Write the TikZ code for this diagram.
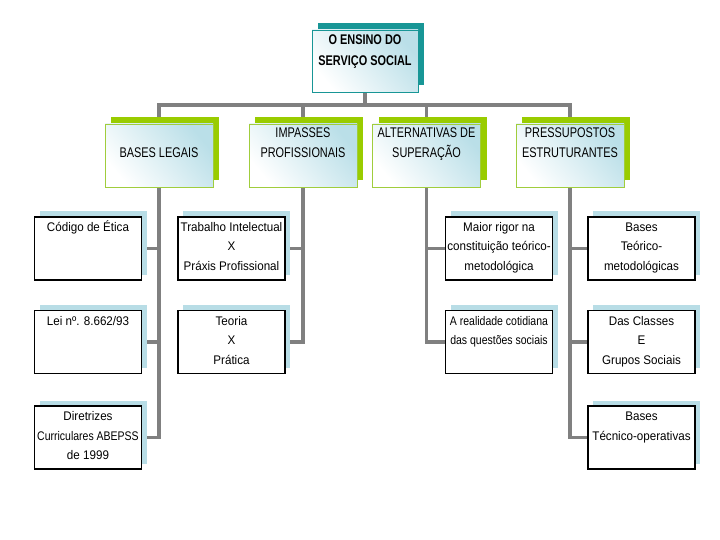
\documentclass[tikz,border=0pt]{standalone}
\usepackage{fontspec}
\setmainfont{Liberation Sans}
\newfontfamily\lvfont[FakeStretch=0.78]{Liberation Sans}
\newfontfamily\chfont[FakeStretch=0.93]{Liberation Sans}
\newfontfamily\chnfont[FakeStretch=0.84]{Liberation Sans}
\usetikzlibrary{shadows,backgrounds}
\definecolor{conngray}{RGB}{128,128,128}
\definecolor{tealone}{RGB}{24,150,150}
\definecolor{limeone}{RGB}{153,204,0}
\definecolor{limeborder}{RGB}{160,205,60}
\definecolor{paleblue}{RGB}{184,221,230}
\definecolor{gradblue}{RGB}{186,223,232}
% boxed text: width, height, first baseline, content
\newcommand\bxt[4]{\parbox[t][#2][t]{#1}{\centering\rule{0pt}{#3}\ignorespaces#4\par}}
\newcommand\toptxt[1]{\bxt{106pt}{62pt}{15pt}{\lvfont\bfseries\fontsize{14}{20.5}\selectfont #1}}
\newcommand\lvtxt[2][13.7pt]{\bxt{108pt}{63pt}{#1}{\lvfont\fontsize{14}{20}\selectfont #2}}
\newcommand\chtxt[1]{\bxt{107pt}{63pt}{14.5pt}{\chfont\fontsize{12.5}{19.5}\selectfont #1}}
\tikzset{
  conn/.style={draw=conngray, line width=3.2pt},
  topbox/.style={draw=tealone, line width=0.8pt, inner sep=0pt,
    minimum width=106pt, minimum height=62pt,
    general shadow={fill=tealone, shadow xshift=6pt, shadow yshift=7pt},
    top color=gradblue, bottom color=white, shading angle=-50},
  lvbox/.style={draw=limeborder, line width=0.8pt, inner sep=0pt,
    minimum width=108pt, minimum height=63pt,
    general shadow={fill=limeone, shadow xshift=6pt, shadow yshift=7pt},
    top color=gradblue, bottom color=white, shading angle=-50},
  chbox/.style={draw=black, line width=1.2pt, fill=white, inner sep=0pt,
    minimum width=107pt, minimum height=63pt,
    general shadow={fill=paleblue, shadow xshift=5pt, shadow yshift=5.5pt}}
}
\begin{document}
\begin{tikzpicture}[x=1pt, y=-1pt]
\useasboundingbox (0,0) rectangle (720,540);
% top
\node[topbox] (top) at (365,61) {\toptxt{O ENSINO DO\\SERVIÇO SOCIAL}};
% level 2
\node[lvbox] (bl) at (159,155.5) {\lvtxt[33.7pt]{BASES LEGAIS}};
\node[lvbox] (ip) at (303,155.5) {\lvtxt{IMPASSES\\PROFISSIONAIS}};
\node[lvbox] (al) at (426.5,155.5) {\lvtxt{ALTERNATIVAS DE\\SUPERAÇÃO}};
\node[lvbox] (pe) at (570,155.5) {\lvtxt{PRESSUPOSTOS\\ESTRUTURANTES}};
% children
\node[chbox] (c1) at (88,248.5) {\chtxt{Código de Ética}};
\node[chbox] (c2) at (88,342) {\chtxt{Lei nº. 8.662/93}};
\node[chbox] (c3) at (88,437.5) {\chtxt{Diretrizes\\{\chnfont Curriculares ABEPSS}\\de 1999}};
\node[chbox] (i1) at (231.5,248.5) {\chtxt{Trabalho Intelectual\\X\\Práxis Profissional}};
\node[chbox] (i2) at (231.5,342) {\chtxt{Teoria\\X\\Prática}};
\node[chbox] (a1) at (499,248.5) {\chtxt{Maior rigor na\\constituição teórico-\\metodológica}};
\node[chbox] (a2) at (499,342) {\chtxt{\chnfont A realidade cotidiana\\das questões sociais}};
\node[chbox] (p1) at (641.5,248.5) {\chtxt{Bases\\Teórico-\\metodológicas}};
\node[chbox] (p2) at (641.5,342) {\chtxt{Das Classes\\E\\Grupos Sociais}};
\node[chbox] (p3) at (641.5,437.5) {\chtxt{Bases\\Técnico-operativas}};
% connectors
\coordinate (bus) at (365,105);
\begin{scope}[on background layer]
\draw[conn] (top.south) -- (bus);
\draw[conn] (bl.north) |- (bus) -| (pe.north);
\draw[conn] (ip.north) -- (ip.north |- bus);
\draw[conn] (al.north) -- (al.north |- bus);
\draw[conn] (bl.south) |- (c3.east);
\draw[conn] (c1.east) -- (c1.east -| bl.south);
\draw[conn] (c2.east) -- (c2.east -| bl.south);
\draw[conn] (ip.south) |- (i2.east);
\draw[conn] (i1.east) -- (i1.east -| ip.south);
\draw[conn] (al.south) |- (a2.west);
\draw[conn] (a1.west) -- (a1.west -| al.south);
\draw[conn] (pe.south) |- (p3.west);
\draw[conn] (p1.west) -- (p1.west -| pe.south);
\draw[conn] (p2.west) -- (p2.west -| pe.south);
\end{scope}
\end{tikzpicture}
\end{document}
